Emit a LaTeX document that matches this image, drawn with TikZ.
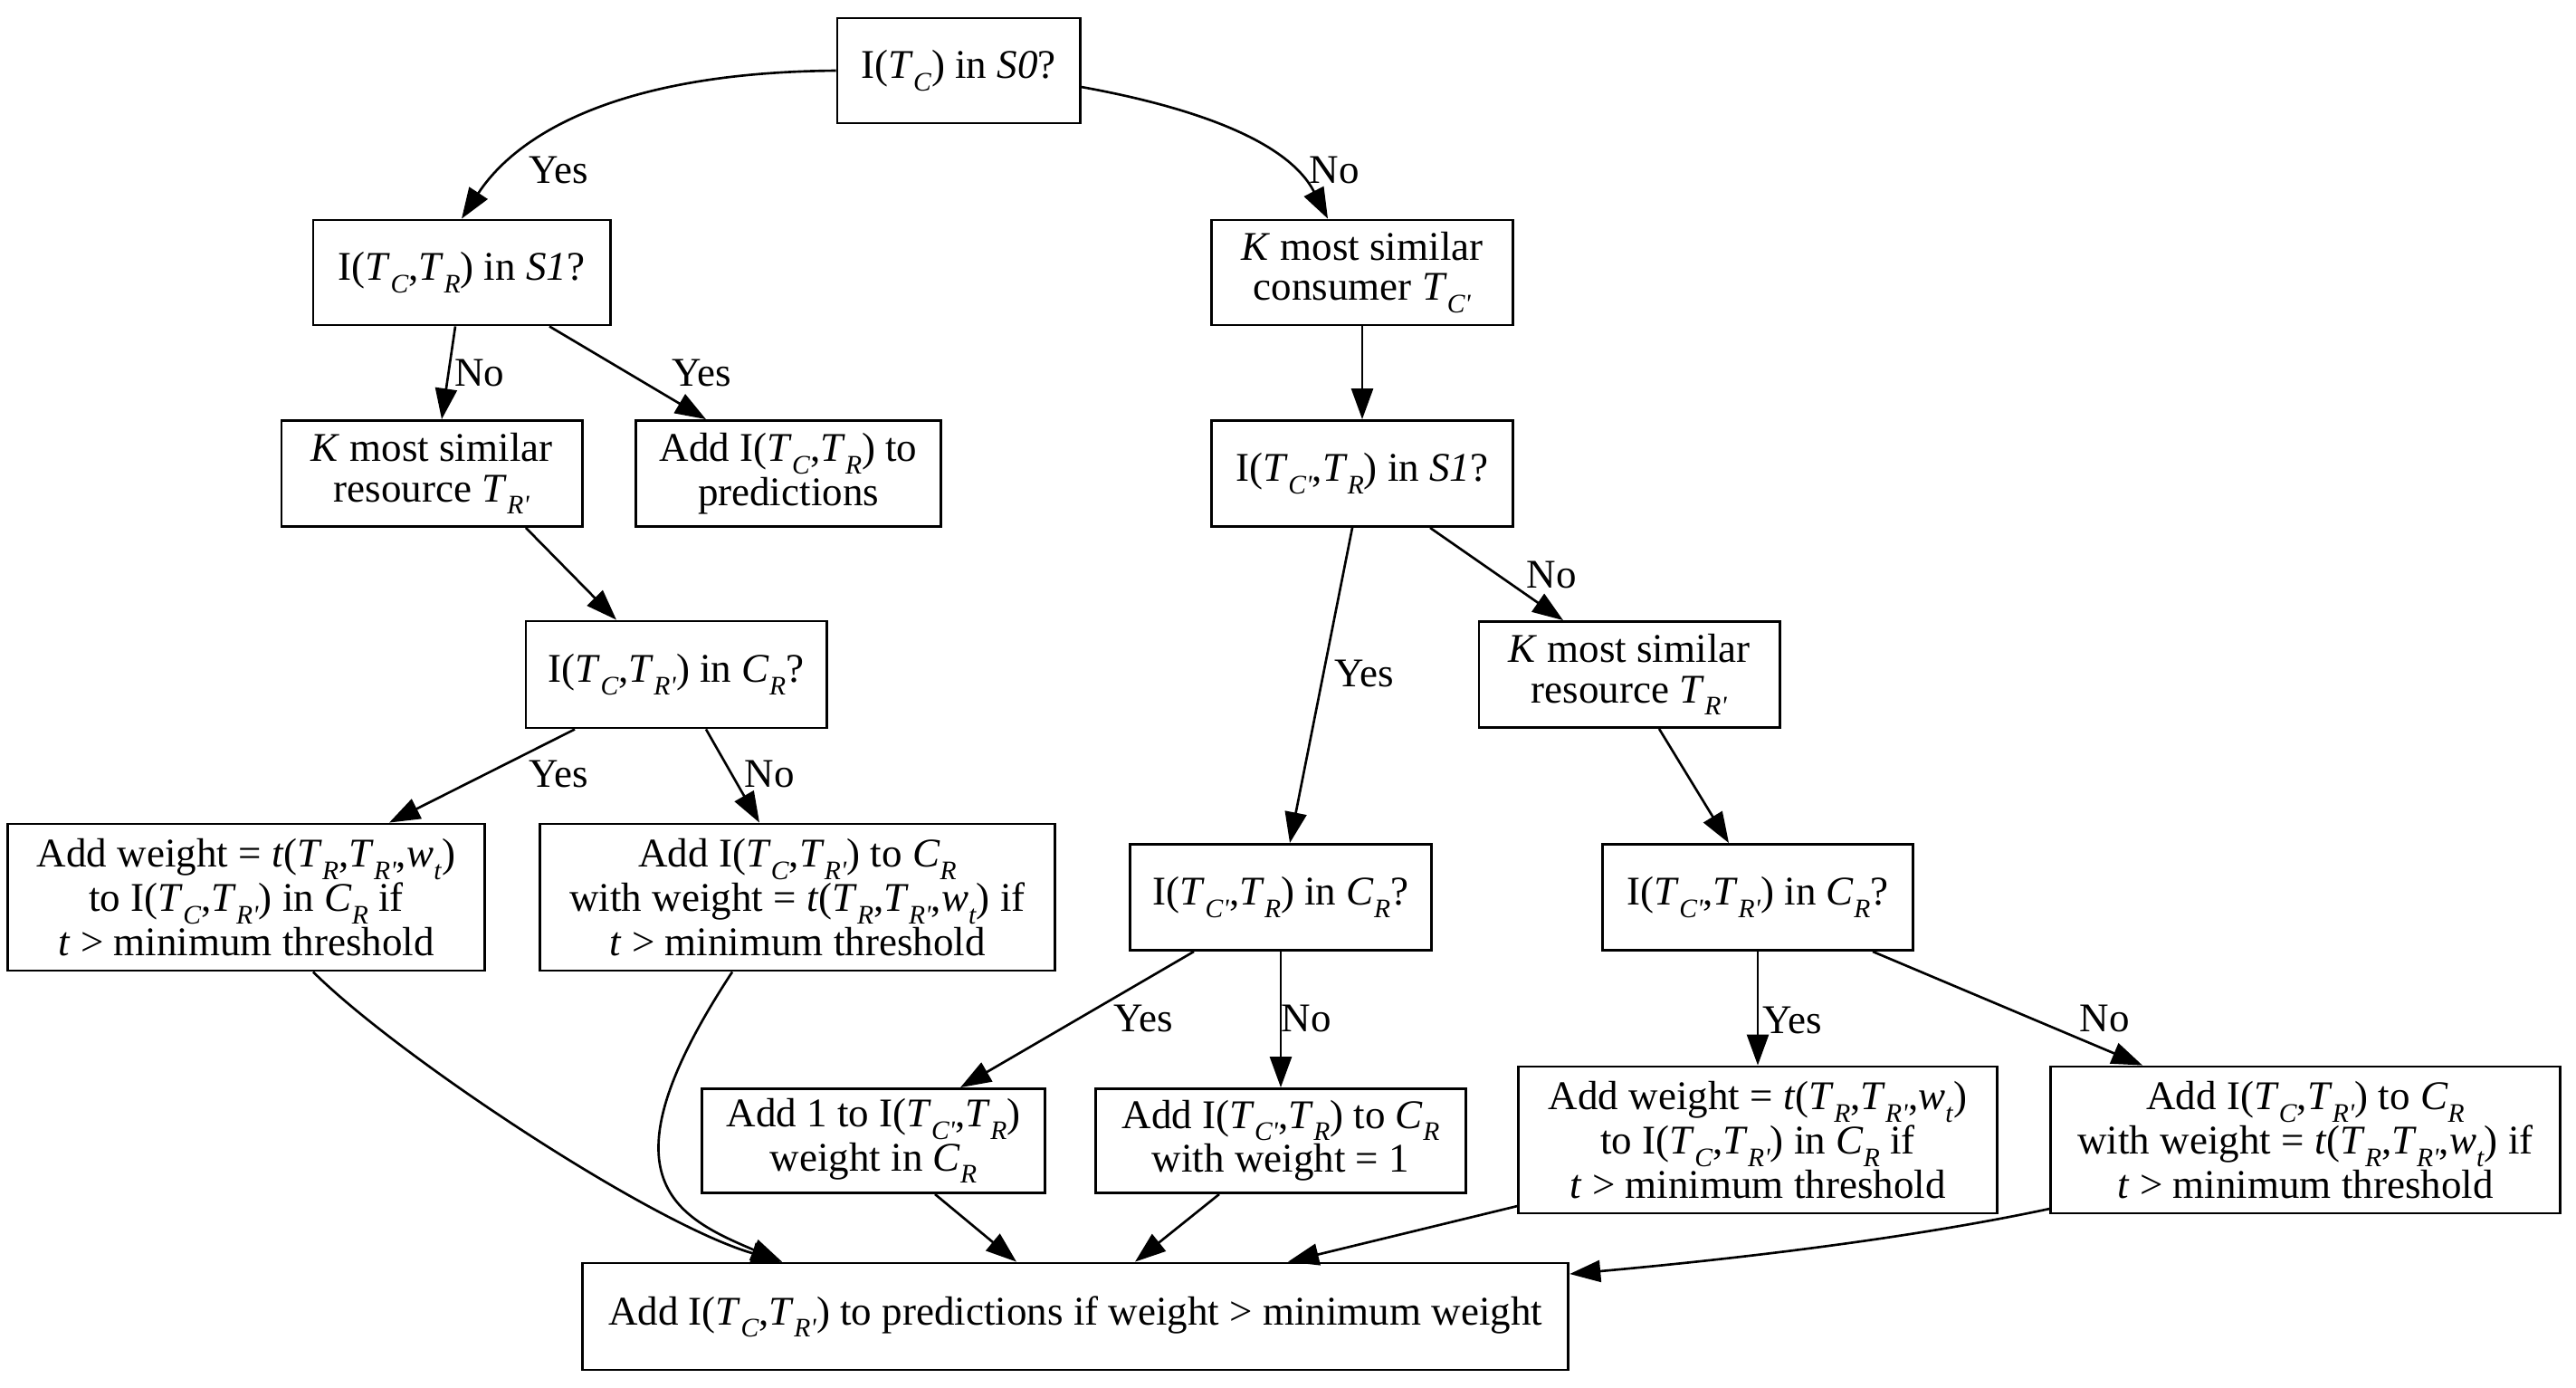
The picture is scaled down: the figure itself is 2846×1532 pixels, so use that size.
\documentclass[tikz,border=0pt]{standalone}
\usepackage{fontspec}
\setmainfont{Liberation Serif}
\usetikzlibrary{arrows.meta,calc}
% italic symbol with a lowered italic subscript
\newcommand{\sbx}[2]{\textit{#1}\raisebox{-3.8pt}{\fontsize{8.4}{8.4}\selectfont\textit{#2}}}
\newcommand{\pr}{\textquotesingle}
\newcommand{\tfun}{\textit{t}(\sbx{T}{R},\sbx{T}{R\pr},\sbx{w}{t})}

\begin{document}
\begin{tikzpicture}[x=0.01cm,y=-0.01cm,
  box/.style={draw,line width=0.8pt,align=center,inner sep=0pt,
    font=\fontsize{12.8}{12.6}\selectfont},
  lbl/.style={inner sep=0pt,font=\fontsize{12.8}{12.6}\selectfont},
  arr/.style={line width=0.75pt,-{Triangle[length=0.34cm,width=0.24cm]}}]
\useasboundingbox (0,0) rectangle (2846,1532);

% decision and action boxes
\node[box,minimum width=2.68cm,minimum height=1.16cm] (n0) at (1059,78) {I(\sbx{T}{C}) in \textit{S0}?};
\node[box,minimum width=3.28cm,minimum height=1.16cm] (n1) at (510,301) {I(\sbx{T}{C},\sbx{T}{R}) in \textit{S1}?};
\node[box,minimum width=3.32cm,minimum height=1.17cm] (n2) at (477,523) {\textit{K} most similar\\resource \sbx{T}{R\pr}};
\node[box,minimum width=3.37cm,minimum height=1.17cm] (n3) at (871,523) {Add I(\sbx{T}{C},\sbx{T}{R}) to\\predictions};
\node[box,minimum width=3.32cm,minimum height=1.18cm] (n4) at (747,745) {I(\sbx{T}{C},\sbx{T}{R\pr}) in \sbx{C}{R}?};
\node[box,minimum width=5.27cm,minimum height=1.62cm] (n5) at (272,991) {Add weight = \tfun\\to I(\sbx{T}{C},\sbx{T}{R\pr}) in \sbx{C}{R} if\\\textit{t} > minimum threshold};
\node[box,minimum width=5.68cm,minimum height=1.62cm] (n6) at (881,991) {Add I(\sbx{T}{C},\sbx{T}{R\pr}) to \sbx{C}{R}\\with weight = \tfun{} if\\\textit{t} > minimum threshold};
\node[box,minimum width=3.33cm,minimum height=1.16cm] (n7) at (1505,301) {\textit{K} most similar\\consumer \sbx{T}{C\pr}};
\node[box,minimum width=3.33cm,minimum height=1.17cm] (n8) at (1505,523) {I(\sbx{T}{C\pr},\sbx{T}{R}) in \textit{S1}?};
\node[box,minimum width=3.32cm,minimum height=1.17cm] (n9) at (1800,745) {\textit{K} most similar\\resource \sbx{T}{R\pr}};
\node[box,minimum width=3.33cm,minimum height=1.17cm] (n10) at (1415,991) {I(\sbx{T}{C\pr},\sbx{T}{R}) in \sbx{C}{R}?};
\node[box,minimum width=3.43cm,minimum height=1.17cm] (n11) at (1942,991) {I(\sbx{T}{C\pr},\sbx{T}{R\pr}) in \sbx{C}{R}?};
\node[box,minimum width=3.79cm,minimum height=1.15cm] (n15) at (965,1260) {Add 1 to I(\sbx{T}{C\pr},\sbx{T}{R})\\weight in \sbx{C}{R}};
\node[box,minimum width=4.08cm,minimum height=1.15cm] (n12) at (1415,1260) {Add I(\sbx{T}{C\pr},\sbx{T}{R}) to \sbx{C}{R}\\with weight = 1};
\node[box,minimum width=5.28cm,minimum height=1.62cm] (n13) at (1942,1259) {Add weight = \tfun\\to I(\sbx{T}{C},\sbx{T}{R\pr}) in \sbx{C}{R} if\\\textit{t} > minimum threshold};
\node[box,minimum width=5.62cm,minimum height=1.62cm] (n14) at (2547,1259) {Add I(\sbx{T}{C},\sbx{T}{R\pr}) to \sbx{C}{R}\\with weight = \tfun{} if\\\textit{t} > minimum threshold};
\node[box,minimum width=10.89cm,minimum height=1.18cm] (fin) at (1188,1454) {Add I(\sbx{T}{C},\sbx{T}{R\pr}) to predictions if weight > minimum weight};

% branch labels
\node[lbl] (l1) at (617,188) {Yes};
\node[lbl] (l2) at (1474,188) {No};
\node[lbl] (l3) at (530,412) {No};
\node[lbl] (l4) at (775,412) {Yes};
\node[lbl] (l5) at (617,855) {Yes};
\node[lbl] (l6) at (850,855) {No};
\node[lbl] (l7) at (1507,744) {Yes};
\node[lbl] (l8) at (1714,635) {No};
\node[lbl] (l9) at (1263,1125) {Yes};
\node[lbl] (l10) at (1443,1125) {No};
\node[lbl] (l11) at (1980,1127) {Yes};
\node[lbl] (l12) at (2325,1125) {No};

% connectors
\draw[arr] (n0.west) .. controls (680,80) and (570,150) .. (n1.north);
\draw[arr] ($(n0.east)+(0,18)$) .. controls (1300,115) and (1420,150) .. ($(n7.north)+(-38,0)$);
\draw[arr] ($(n1.south)+(-7,0)$) -- ($(n2.north)+(11,0)$);
\draw[arr] ($(n1.south)+(97,0)$) -- ($(n3.north)+(-91,0)$);
\draw[arr] ($(n2.south)+(104,0)$) -- ($(n4.north)+(-66,0)$);
\draw[arr] ($(n4.south)+(-112,0)$) -- ($(n5.north)+(158,0)$);
\draw[arr] ($(n4.south)+(33,0)$) -- ($(n6.north)+(-42,0)$);
\draw[arr] (n7.south) -- (n8.north);
\draw[arr] ($(n8.south)+(-11,0)$) -- ($(n10.north)+(10,0)$);
\draw[arr] ($(n8.south)+(75,0)$) -- ($(n9.north)+(-73,0)$);
\draw[arr] ($(n9.south)+(33,0)$) -- ($(n11.north)+(-32,0)$);
\draw[arr] ($(n10.south)+(-96,0)$) -- ($(n15.north)+(96,0)$);
\draw[arr] (n10.south) -- (n12.north);
\draw[arr] (n11.south) -- (n13.north);
\draw[arr] ($(n11.south)+(127,0)$) -- ($(n14.north)+(-180,0)$);
\draw[arr] ($(n5.south)+(74,0)$) .. controls (440,1167) and (720,1352) .. ($(fin.north)+(-324,0)$);
\draw[arr] ($(n6.south)+(-72,0)$) .. controls (660,1300) and (744,1343) .. ($(fin.north)+(-324,0)$);
\draw[arr] ($(n15.south)+(68,0)$) -- ($(fin.north)+(-65,0)$);
\draw[arr] ($(n12.south)+(-68,0)$) -- ($(fin.north)+(66,0)$);
\draw[arr] ($(n13.west)+(0,73)$) -- ($(fin.north)+(235,0)$);
\draw[arr] ($(n14.west)+(0,76)$) .. controls (2100,1370) and (1900,1392) .. ($(fin.east)+(0,-47)$);
\end{tikzpicture}
\end{document}
